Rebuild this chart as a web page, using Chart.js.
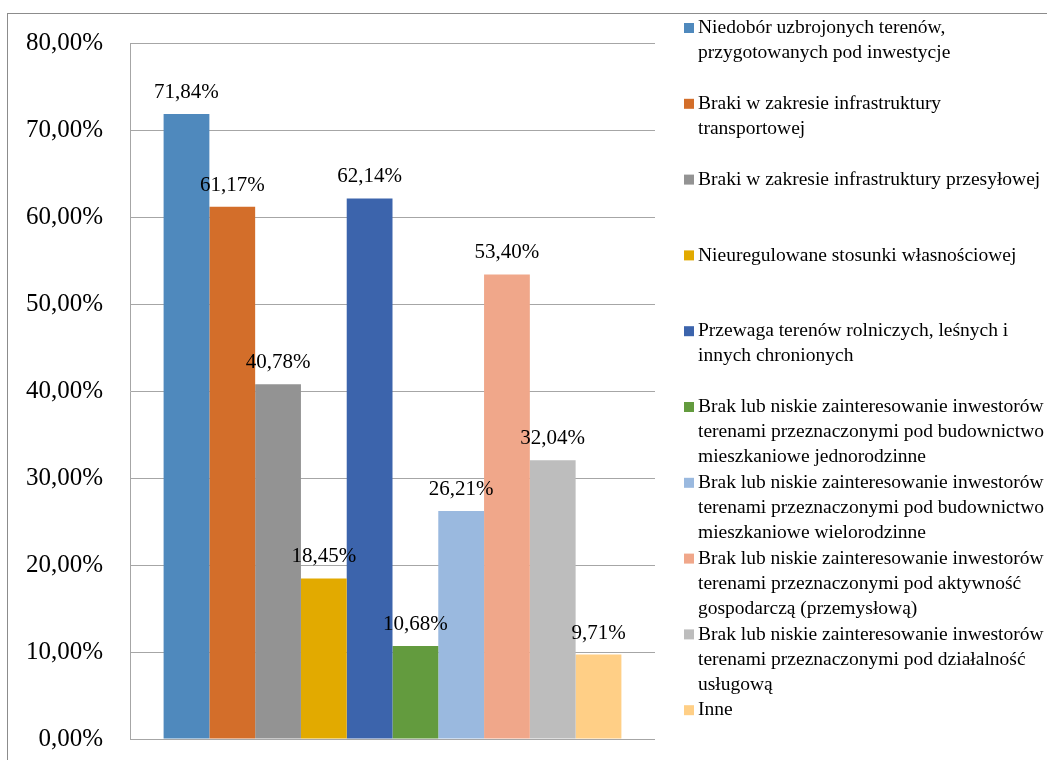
<!DOCTYPE html>
<html>
<head>
<meta charset="utf-8">
<script src="https://cdn.jsdelivr.net/npm/chart.js@4.4.4/dist/chart.umd.min.js"></script>
<style>
  html, body { margin: 0; padding: 0; background: #fff; }
  #wrap { width: 1047px; height: 760px; position: relative; }
</style>
</head>
<body>
<div id="wrap"><canvas id="chart"></canvas></div>
<script>
// ---- data ----
const categories = [''];
const seriesLabels = [
  ['Niedobór uzbrojonych terenów,', 'przygotowanych pod inwestycje'],
  ['Braki w zakresie infrastruktury', 'transportowej'],
  ['Braki w zakresie infrastruktury przesyłowej'],
  ['Nieuregulowane stosunki własnościowej'],
  ['Przewaga terenów rolniczych, leśnych i', 'innych chronionych'],
  ['Brak lub niskie zainteresowanie inwestorów', 'terenami przeznaczonymi pod budownictwo', 'mieszkaniowe jednorodzinne'],
  ['Brak lub niskie zainteresowanie inwestorów', 'terenami przeznaczonymi pod budownictwo', 'mieszkaniowe wielorodzinne'],
  ['Brak lub niskie zainteresowanie inwestorów', 'terenami przeznaczonymi pod aktywność', 'gospodarczą (przemysłową)'],
  ['Brak lub niskie zainteresowanie inwestorów', 'terenami przeznaczonymi pod działalność', 'usługową'],
  ['Inne']
];
const seriesValues = [71.84, 61.17, 40.78, 18.45, 62.14, 10.68, 26.21, 53.40, 32.04, 9.71];
const seriesColors = ['#4f89bd', '#d36e2a', '#939393', '#e2aa00', '#3c64ac',
                      '#639b3e', '#9ab9df', '#f0a78a', '#bdbdbd', '#ffcf86'];
const yTicks = [0, 10, 20, 30, 40, 50, 60, 70, 80];

const SERIF = '"Liberation Serif", "Times New Roman", serif';

function fmtPct(v) {
  return v.toFixed(2).replace('.', ',') + '%';
}

// outer frame (clipped at the right and bottom like the original)
const framePlugin = {
  id: 'frame',
  beforeDraw: function (chart) {
    const ctx = chart.ctx;
    ctx.save();
    ctx.strokeStyle = '#8c8c8c';
    ctx.lineWidth = 1;
    ctx.strokeRect(7.5, 13.5, 1100, 800);
    ctx.restore();
  }
};

// value labels above each bar
const valueLabelPlugin = {
  id: 'valueLabels',
  afterDatasetsDraw: function (chart) {
    const ctx = chart.ctx;
    ctx.save();
    ctx.font = '21px ' + SERIF;
    ctx.fillStyle = '#000';
    ctx.textAlign = 'center';
    ctx.textBaseline = 'alphabetic';
    chart.data.datasets.forEach(function (ds, i) {
      const meta = chart.getDatasetMeta(i);
      meta.data.forEach(function (bar, j) {
        ctx.fillText(fmtPct(ds.data[j]), bar.x, bar.y - 16);
      });
    });
    ctx.restore();
  }
};

// legend on the right with wrapped entries
const sideLegendPlugin = {
  id: 'sideLegend',
  afterDraw: function (chart) {
    const ctx = chart.ctx;
    const x0 = 684;
    const step = 75.8;
    const lineH = 25;
    ctx.save();
    ctx.font = '19.5px ' + SERIF;
    ctx.fillStyle = '#000';
    ctx.textAlign = 'left';
    ctx.textBaseline = 'middle';
    seriesLabels.forEach(function (lines, i) {
      const y = 28 + i * step;
      ctx.fillStyle = seriesColors[i];
      ctx.fillRect(x0, y - 5, 10, 10);
      ctx.fillStyle = '#000';
      lines.forEach(function (t, k) {
        ctx.fillText(t, x0 + 14, y + k * lineH);
      });
    });
    ctx.restore();
  }
};

const datasets = seriesValues.map(function (v, i) {
  return {
    label: seriesLabels[i].join(' '),
    data: [v],
    backgroundColor: seriesColors[i],
    borderWidth: 0,
    barPercentage: 1,
    categoryPercentage: 0.872
  };
});

new Chart(document.getElementById('chart'), {
  type: 'bar',
  data: { labels: categories, datasets: datasets },
  options: {
    responsive: true,
    maintainAspectRatio: false,
    animation: false,
    layout: { padding: { left: 0, top: 43, right: 392, bottom: 21 } },
    plugins: {
      legend: { display: false },
      tooltip: { enabled: false }
    },
    scales: {
      x: { display: false },
      y: {
        min: 0,
        max: 80,
        afterFit: function (scale) {
          scale.width = 130;
          scale.paddingBottom = 0;
          scale.paddingTop = 0;
        },
        afterBuildTicks: function (scale) {
          scale.ticks = yTicks.map(function (v) { return { value: v }; });
        },
        grid: { color: '#a6a6a6', drawTicks: false, lineWidth: 1 },
        border: { display: true, color: '#a6a6a6' },
        ticks: {
          padding: 27,
          color: '#000',
          font: { family: SERIF, size: 25 },
          callback: function (v) { return fmtPct(v); }
        }
      }
    }
  },
  plugins: [framePlugin, valueLabelPlugin, sideLegendPlugin]
});
</script>
</body>
</html>
